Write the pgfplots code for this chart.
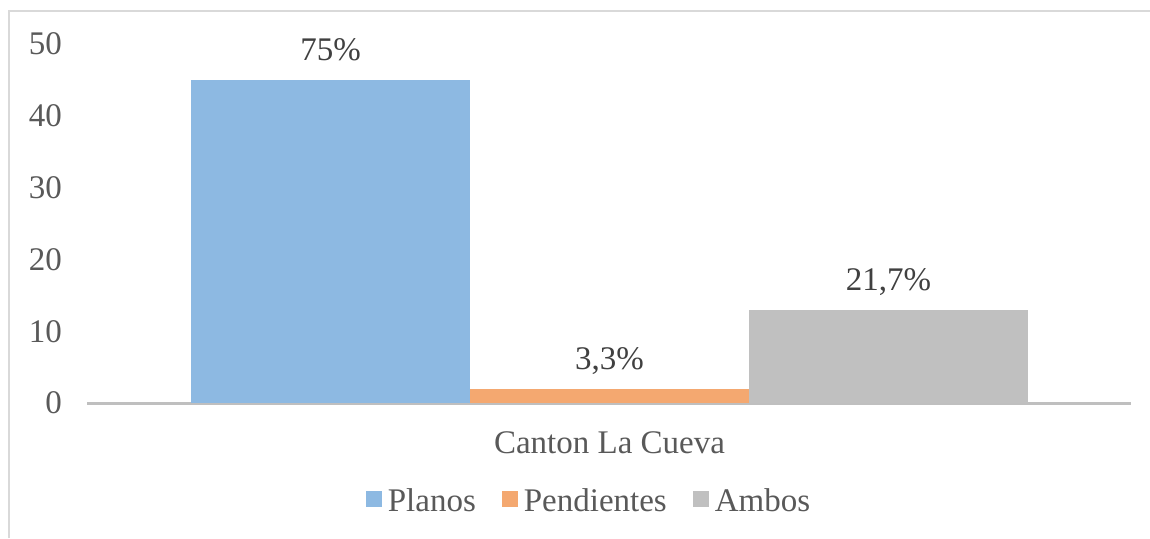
\documentclass[border=0pt]{standalone}
\usepackage{fontspec}
\setmainfont{Liberation Serif}
\usepackage{pgfplots}
\pgfplotsset{compat=1.18}

\definecolor{cPlanos}{HTML}{8DB9E2}
\definecolor{cPend}{HTML}{F4A870}
\definecolor{cAmbos}{HTML}{C0C0C0}
\definecolor{txtgray}{HTML}{595959}
\definecolor{lblgray}{HTML}{404040}
\definecolor{axgray}{HTML}{BFBFBF}
\definecolor{framegray}{HTML}{D9D9D9}

\pgfplotsset{
  sqlegend/.style={legend image code/.code={\fill[##1,draw=none] (0pt,-2.5pt) rectangle (8pt,5.5pt);}},
}

\begin{document}
\begin{tikzpicture}
% 1 px of the reference = 0.5pt; axis origin at pixel (87,403)
\useasboundingbox (-43.5pt,-67.5pt) rectangle (531.5pt,201.5pt);
\draw[framegray, line width=0.6pt] (-39pt,-67.5pt) -- (-39pt,196pt) -- (531.5pt,196pt);
\begin{axis}[
  at={(0pt,0pt)}, anchor=south west,
  scale only axis,
  width=522pt, height=179.5pt,
  xmin=87, xmax=1131,
  ymin=0, ymax=50,
  separate axis lines,
  axis x line*=bottom,
  axis y line*=left,
  y axis line style={draw=none},
  x axis line style={draw=axgray, line width=1.5pt},
  major tick length=0pt,
  ytick={0,10,20,30,40,50},
  xtick={609.5},
  xticklabels={Canton La Cueva},
  font=\fontsize{16.5}{19.5}\selectfont,
  /pgf/number format/assume math mode=true,
  ticklabel style={text=txtgray},
  yticklabel style={anchor=east, xshift=-9pt},
  xticklabel style={anchor=base, yshift=-25pt},
  nodes near coords,
  point meta=explicit symbolic,
  nodes near coords style={font=\fontsize{16.5}{19.5}\selectfont, text=lblgray, anchor=base, yshift=9.5pt, inner sep=0pt},
  legend style={draw=none, fill=none, at={(axis description cs:0.4818,-0.2758)}, anchor=center,
    legend columns=-1, text=txtgray, font=\fontsize{16.5}{19.5}\selectfont,
    /tikz/every odd column/.append style={column sep=1pt},
    /tikz/every even column/.append style={column sep=11pt}},
]
\addplot[ybar, bar width=279, bar shift=0pt, fill=cPlanos, draw=none, sqlegend] coordinates {(330.5,45) [75\%]};
\addlegendentry{Planos}
\addplot[ybar, bar width=279, bar shift=0pt, fill=cPend, draw=none, sqlegend] coordinates {(609.5,2) [3,3\%]};
\addlegendentry{Pendientes}
\addplot[ybar, bar width=279, bar shift=0pt, fill=cAmbos, draw=none, sqlegend] coordinates {(888.5,13) [21,7\%]};
\addlegendentry{Ambos}
\end{axis}
\end{tikzpicture}
\end{document}
